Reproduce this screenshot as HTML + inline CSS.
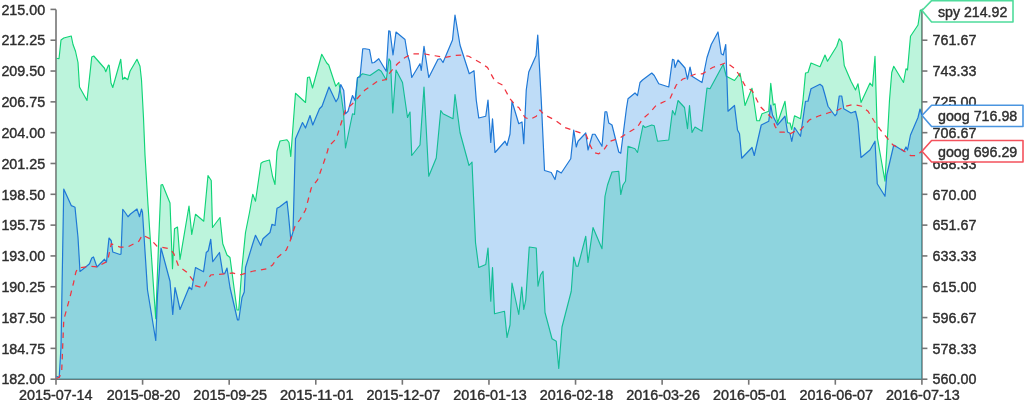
<!DOCTYPE html>
<html><head><meta charset="utf-8"><title>chart</title>
<style>html,body{margin:0;padding:0;background:#fff;}body{width:1024px;height:400px;overflow:hidden;position:relative;font-family:"Liberation Sans",Arial,sans-serif;}</style>
</head><body>
<svg width="1024" height="400" viewBox="0 0 1024 400" style="display:block;position:absolute;left:0;top:0">
<rect width="1024" height="400" fill="#fff"/>
<g stroke="#757575" stroke-width="1.6" fill="none">
<path d="M56.0,9.4 V379.2 H921.9 V9.4"/>
<path d="M50.5,9.40 H56.0"/>
<path d="M921.9,9.40 H927.4"/>
<path d="M50.5,40.22 H56.0"/>
<path d="M921.9,40.22 H927.4"/>
<path d="M50.5,71.03 H56.0"/>
<path d="M921.9,71.03 H927.4"/>
<path d="M50.5,101.85 H56.0"/>
<path d="M921.9,101.85 H927.4"/>
<path d="M50.5,132.67 H56.0"/>
<path d="M921.9,132.67 H927.4"/>
<path d="M50.5,163.48 H56.0"/>
<path d="M921.9,163.48 H927.4"/>
<path d="M50.5,194.30 H56.0"/>
<path d="M921.9,194.30 H927.4"/>
<path d="M50.5,225.12 H56.0"/>
<path d="M921.9,225.12 H927.4"/>
<path d="M50.5,255.93 H56.0"/>
<path d="M921.9,255.93 H927.4"/>
<path d="M50.5,286.75 H56.0"/>
<path d="M921.9,286.75 H927.4"/>
<path d="M50.5,317.57 H56.0"/>
<path d="M921.9,317.57 H927.4"/>
<path d="M50.5,348.38 H56.0"/>
<path d="M921.9,348.38 H927.4"/>
<path d="M50.5,379.20 H56.0"/>
<path d="M921.9,379.20 H927.4"/>
<path d="M56.00,379.2 V384.7"/>
<path d="M142.59,379.2 V384.7"/>
<path d="M229.18,379.2 V384.7"/>
<path d="M315.77,379.2 V384.7"/>
<path d="M402.36,379.2 V384.7"/>
<path d="M488.95,379.2 V384.7"/>
<path d="M575.54,379.2 V384.7"/>
<path d="M662.13,379.2 V384.7"/>
<path d="M748.72,379.2 V384.7"/>
<path d="M835.31,379.2 V384.7"/>
<path d="M921.90,379.2 V384.7"/>
</g>
<path d="M56.50,58.25 L59.00,58.75 L61.00,40.00 L63.75,38.00 L71.25,36.00 L73.00,44.50 L75.50,51.25 L78.00,62.50 L79.50,87.00 L87.00,100.50 L91.75,57.00 L93.75,56.00 L104.50,68.25 L105.75,71.75 L108.50,65.00 L109.25,65.50 L111.00,83.00 L112.75,87.50 L120.75,59.25 L122.75,79.50 L124.50,77.25 L127.75,79.75 L130.00,71.25 L137.00,59.25 L140.00,66.25 L141.50,80.00 L143.50,118.00 L145.00,155.00 L148.00,205.00 L154.00,294.00 L155.75,318.75 L158.50,245.00 L161.00,185.00 L162.50,184.50 L170.00,203.00 L172.50,268.75 L174.50,228.75 L177.50,227.00 L180.00,259.50 L189.00,206.00 L191.75,234.50 L195.50,214.25 L203.75,221.25 L208.00,175.50 L211.25,180.50 L212.50,227.50 L220.00,217.50 L222.75,243.75 L227.00,255.00 L230.00,257.50 L237.00,310.00 L238.75,310.00 L242.00,267.50 L245.50,232.50 L249.50,212.50 L252.75,194.25 L255.50,201.25 L261.00,163.25 L263.25,161.75 L269.50,160.00 L272.50,176.25 L275.00,184.50 L277.00,151.25 L280.00,141.00 L287.00,139.75 L289.00,142.50 L290.75,156.50 L295.50,93.25 L305.50,102.50 L307.50,77.50 L309.50,77.00 L312.50,88.00 L321.75,54.25 L326.75,63.00 L328.75,65.00 L335.75,86.25 L338.75,82.50 L341.25,96.00 L343.50,112.00 L345.50,148.00 L352.50,113.75 L354.50,114.50 L357.50,78.00 L362.50,73.75 L370.00,75.50 L378.75,69.50 L381.25,71.25 L386.25,80.00 L389.00,58.75 L390.50,61.25 L392.75,113.00 L396.00,70.00 L402.50,82.50 L405.00,100.00 L407.50,117.50 L410.00,112.00 L411.75,155.50 L420.00,145.00 L424.00,87.00 L428.75,176.25 L436.25,158.00 L440.75,110.50 L443.00,113.75 L453.00,118.75 L455.00,94.50 L460.00,132.50 L469.00,165.50 L472.00,162.00 L475.50,242.50 L478.75,267.50 L485.75,264.50 L488.00,248.00 L490.75,301.25 L492.50,267.50 L494.50,313.75 L504.50,311.25 L507.00,337.50 L510.00,325.00 L512.00,283.00 L518.75,314.50 L521.75,287.00 L523.75,309.50 L525.75,300.00 L529.25,247.00 L536.25,248.00 L538.00,286.25 L540.50,275.00 L543.00,271.25 L545.00,312.50 L552.00,338.75 L556.25,341.25 L558.75,368.50 L562.00,327.00 L571.25,291.25 L573.75,257.00 L576.25,266.25 L578.00,266.25 L585.75,236.25 L588.00,262.50 L593.00,227.50 L602.00,248.75 L605.00,196.25 L607.50,185.00 L612.00,172.00 L618.75,171.25 L620.75,194.50 L623.00,185.00 L625.50,181.25 L628.00,146.25 L635.00,148.75 L637.50,152.50 L643.00,125.50 L645.00,127.50 L651.75,125.00 L654.25,125.75 L657.50,141.25 L668.75,140.00 L672.50,110.50 L675.00,115.00 L678.00,100.50 L684.50,107.50 L687.50,128.75 L689.50,105.50 L692.00,132.50 L695.00,127.00 L702.00,131.25 L705.00,105.00 L707.00,88.00 L710.00,88.75 L723.25,64.25 L726.25,76.25 L734.50,80.50 L740.00,73.25 L742.00,83.75 L745.00,105.50 L752.00,88.25 L756.75,120.75 L759.50,120.75 L762.00,113.75 L768.75,111.25 L770.75,83.25 L773.25,105.00 L775.00,103.75 L777.50,123.00 L785.00,101.25 L787.50,123.00 L790.00,123.00 L791.75,129.50 L794.50,115.75 L800.50,118.75 L803.00,100.00 L805.50,73.00 L808.00,72.50 L811.00,63.00 L820.00,66.75 L825.00,55.00 L827.50,61.25 L836.75,46.25 L839.25,38.75 L841.75,42.00 L844.25,65.50 L851.00,81.25 L855.50,90.00 L858.00,83.75 L861.00,102.50 L870.00,83.00 L872.50,86.25 L875.00,56.25 L877.40,138.00 L885.00,181.25 L887.30,140.00 L889.50,100.00 L891.75,72.50 L893.75,66.25 L903.50,82.50 L906.00,68.75 L907.50,70.00 L910.50,36.25 L918.00,25.00 L920.30,10.00 L921.90,10.40 L921.90,379.2 L56.50,379.2 Z" fill="#10d882" fill-opacity="0.28"/>
<path d="M56.50,58.25 L59.00,58.75 L61.00,40.00 L63.75,38.00 L71.25,36.00 L73.00,44.50 L75.50,51.25 L78.00,62.50 L79.50,87.00 L87.00,100.50 L91.75,57.00 L93.75,56.00 L104.50,68.25 L105.75,71.75 L108.50,65.00 L109.25,65.50 L111.00,83.00 L112.75,87.50 L120.75,59.25 L122.75,79.50 L124.50,77.25 L127.75,79.75 L130.00,71.25 L137.00,59.25 L140.00,66.25 L141.50,80.00 L143.50,118.00 L145.00,155.00 L148.00,205.00 L154.00,294.00 L155.75,318.75 L158.50,245.00 L161.00,185.00 L162.50,184.50 L170.00,203.00 L172.50,268.75 L174.50,228.75 L177.50,227.00 L180.00,259.50 L189.00,206.00 L191.75,234.50 L195.50,214.25 L203.75,221.25 L208.00,175.50 L211.25,180.50 L212.50,227.50 L220.00,217.50 L222.75,243.75 L227.00,255.00 L230.00,257.50 L237.00,310.00 L238.75,310.00 L242.00,267.50 L245.50,232.50 L249.50,212.50 L252.75,194.25 L255.50,201.25 L261.00,163.25 L263.25,161.75 L269.50,160.00 L272.50,176.25 L275.00,184.50 L277.00,151.25 L280.00,141.00 L287.00,139.75 L289.00,142.50 L290.75,156.50 L295.50,93.25 L305.50,102.50 L307.50,77.50 L309.50,77.00 L312.50,88.00 L321.75,54.25 L326.75,63.00 L328.75,65.00 L335.75,86.25 L338.75,82.50 L341.25,96.00 L343.50,112.00 L345.50,148.00 L352.50,113.75 L354.50,114.50 L357.50,78.00 L362.50,73.75 L370.00,75.50 L378.75,69.50 L381.25,71.25 L386.25,80.00 L389.00,58.75 L390.50,61.25 L392.75,113.00 L396.00,70.00 L402.50,82.50 L405.00,100.00 L407.50,117.50 L410.00,112.00 L411.75,155.50 L420.00,145.00 L424.00,87.00 L428.75,176.25 L436.25,158.00 L440.75,110.50 L443.00,113.75 L453.00,118.75 L455.00,94.50 L460.00,132.50 L469.00,165.50 L472.00,162.00 L475.50,242.50 L478.75,267.50 L485.75,264.50 L488.00,248.00 L490.75,301.25 L492.50,267.50 L494.50,313.75 L504.50,311.25 L507.00,337.50 L510.00,325.00 L512.00,283.00 L518.75,314.50 L521.75,287.00 L523.75,309.50 L525.75,300.00 L529.25,247.00 L536.25,248.00 L538.00,286.25 L540.50,275.00 L543.00,271.25 L545.00,312.50 L552.00,338.75 L556.25,341.25 L558.75,368.50 L562.00,327.00 L571.25,291.25 L573.75,257.00 L576.25,266.25 L578.00,266.25 L585.75,236.25 L588.00,262.50 L593.00,227.50 L602.00,248.75 L605.00,196.25 L607.50,185.00 L612.00,172.00 L618.75,171.25 L620.75,194.50 L623.00,185.00 L625.50,181.25 L628.00,146.25 L635.00,148.75 L637.50,152.50 L643.00,125.50 L645.00,127.50 L651.75,125.00 L654.25,125.75 L657.50,141.25 L668.75,140.00 L672.50,110.50 L675.00,115.00 L678.00,100.50 L684.50,107.50 L687.50,128.75 L689.50,105.50 L692.00,132.50 L695.00,127.00 L702.00,131.25 L705.00,105.00 L707.00,88.00 L710.00,88.75 L723.25,64.25 L726.25,76.25 L734.50,80.50 L740.00,73.25 L742.00,83.75 L745.00,105.50 L752.00,88.25 L756.75,120.75 L759.50,120.75 L762.00,113.75 L768.75,111.25 L770.75,83.25 L773.25,105.00 L775.00,103.75 L777.50,123.00 L785.00,101.25 L787.50,123.00 L790.00,123.00 L791.75,129.50 L794.50,115.75 L800.50,118.75 L803.00,100.00 L805.50,73.00 L808.00,72.50 L811.00,63.00 L820.00,66.75 L825.00,55.00 L827.50,61.25 L836.75,46.25 L839.25,38.75 L841.75,42.00 L844.25,65.50 L851.00,81.25 L855.50,90.00 L858.00,83.75 L861.00,102.50 L870.00,83.00 L872.50,86.25 L875.00,56.25 L877.40,138.00 L885.00,181.25 L887.30,140.00 L889.50,100.00 L891.75,72.50 L893.75,66.25 L903.50,82.50 L906.00,68.75 L907.50,70.00 L910.50,36.25 L918.00,25.00 L920.30,10.00 L921.90,10.40" fill="none" stroke="#10d477" stroke-width="1.15" stroke-linejoin="round"/>
<path d="M56.50,376.20 L59.20,377.50 L61.00,347.00 L63.75,189.00 L71.25,205.60 L73.50,206.50 L75.00,207.30 L78.00,237.50 L80.00,271.50 L87.50,265.50 L89.50,263.75 L91.75,258.00 L93.50,257.00 L97.00,267.00 L104.50,259.25 L106.50,262.00 L109.00,238.00 L111.25,240.75 L112.75,252.00 L120.00,254.50 L121.00,254.00 L122.75,209.25 L125.50,213.00 L128.00,216.75 L130.50,214.00 L137.00,209.00 L139.50,216.75 L141.50,209.00 L142.50,212.50 L147.50,290.00 L155.75,340.50 L157.50,295.00 L161.00,248.00 L163.50,257.00 L170.00,281.25 L172.75,314.50 L175.00,287.50 L177.50,298.00 L180.00,309.50 L189.25,287.00 L191.75,289.50 L195.50,267.50 L203.50,271.80 L206.25,252.50 L208.25,250.75 L210.75,239.25 L212.75,261.75 L219.50,252.50 L222.75,273.00 L224.75,273.50 L227.00,268.00 L230.00,287.50 L237.50,320.00 L238.75,320.00 L242.00,297.50 L244.25,292.00 L245.50,267.50 L252.50,244.50 L255.50,235.25 L260.75,245.50 L263.00,238.75 L270.00,232.50 L272.00,224.25 L275.00,225.50 L277.00,208.25 L279.50,207.00 L287.00,201.25 L288.50,215.00 L290.75,239.25 L293.00,232.00 L295.50,138.75 L302.50,122.50 L305.50,128.00 L310.00,115.50 L312.75,125.00 L319.50,108.75 L322.00,106.25 L329.00,87.00 L336.00,101.75 L338.25,98.00 L340.75,84.50 L343.75,90.50 L345.50,113.75 L348.00,111.25 L352.50,95.50 L355.00,100.50 L357.50,77.50 L360.00,77.00 L362.75,48.75 L365.00,48.75 L369.50,49.50 L372.00,63.00 L374.25,62.50 L378.75,58.75 L386.25,71.25 L388.75,30.75 L390.00,31.25 L393.00,55.00 L396.00,32.00 L405.00,39.50 L407.50,55.00 L409.50,61.25 L411.75,77.50 L420.00,63.75 L421.25,70.50 L424.00,46.25 L428.75,77.50 L438.00,59.25 L440.50,58.75 L443.00,62.50 L452.50,40.00 L455.00,15.00 L460.00,45.00 L469.25,73.75 L474.00,70.75 L476.25,100.00 L478.75,118.00 L485.75,116.25 L488.00,100.00 L490.75,142.50 L492.50,118.75 L495.00,152.50 L505.00,141.25 L507.00,145.50 L510.00,134.00 L512.00,101.25 L518.75,123.75 L522.00,122.00 L523.75,143.75 L526.25,90.00 L528.75,72.00 L536.00,55.75 L537.75,35.00 L541.25,100.00 L544.50,170.50 L551.25,172.50 L555.00,179.50 L557.00,170.50 L561.25,173.00 L570.75,158.75 L573.75,130.00 L576.25,147.00 L578.00,141.25 L585.75,133.00 L588.00,150.00 L592.50,134.25 L595.00,134.25 L602.00,146.25 L605.00,111.75 L606.75,111.75 L608.75,123.00 L612.00,125.00 L618.75,152.00 L620.75,153.25 L626.50,108.00 L628.00,98.75 L635.00,93.00 L637.50,95.50 L640.00,82.50 L642.50,80.00 L651.75,73.00 L654.25,75.50 L658.75,83.75 L668.75,87.00 L672.50,59.25 L674.00,60.00 L675.00,67.50 L678.00,60.00 L685.00,68.00 L687.50,79.25 L690.00,67.00 L692.00,76.25 L702.00,82.50 L707.00,57.50 L711.25,44.50 L718.00,32.00 L721.25,53.75 L723.25,55.00 L725.75,44.50 L728.00,111.25 L734.50,105.50 L737.50,130.00 L739.50,133.75 L741.75,158.25 L752.00,147.50 L754.25,155.50 L761.25,125.00 L768.75,121.25 L770.75,105.00 L772.50,115.00 L777.50,125.00 L785.00,116.25 L787.50,132.00 L790.00,133.25 L791.75,141.50 L794.50,127.50 L800.50,136.25 L805.50,101.25 L808.00,101.25 L811.00,88.75 L820.00,84.25 L822.50,86.25 L825.00,95.00 L828.00,106.25 L835.00,115.75 L836.75,113.75 L839.25,96.00 L841.75,96.00 L843.75,108.75 L851.00,113.00 L855.50,111.25 L858.00,122.00 L861.00,157.50 L870.00,150.00 L875.00,141.25 L877.25,183.75 L885.00,196.25 L886.75,175.00 L893.75,145.00 L903.75,151.25 L906.00,147.00 L907.50,150.00 L910.50,135.00 L918.00,117.50 L920.00,109.00 L921.90,115.00 L921.90,379.2 L56.50,379.2 Z" fill="#1e88e5" fill-opacity="0.29"/>
<path d="M56.50,376.20 L59.20,377.50 L61.00,347.00 L63.75,189.00 L71.25,205.60 L73.50,206.50 L75.00,207.30 L78.00,237.50 L80.00,271.50 L87.50,265.50 L89.50,263.75 L91.75,258.00 L93.50,257.00 L97.00,267.00 L104.50,259.25 L106.50,262.00 L109.00,238.00 L111.25,240.75 L112.75,252.00 L120.00,254.50 L121.00,254.00 L122.75,209.25 L125.50,213.00 L128.00,216.75 L130.50,214.00 L137.00,209.00 L139.50,216.75 L141.50,209.00 L142.50,212.50 L147.50,290.00 L155.75,340.50 L157.50,295.00 L161.00,248.00 L163.50,257.00 L170.00,281.25 L172.75,314.50 L175.00,287.50 L177.50,298.00 L180.00,309.50 L189.25,287.00 L191.75,289.50 L195.50,267.50 L203.50,271.80 L206.25,252.50 L208.25,250.75 L210.75,239.25 L212.75,261.75 L219.50,252.50 L222.75,273.00 L224.75,273.50 L227.00,268.00 L230.00,287.50 L237.50,320.00 L238.75,320.00 L242.00,297.50 L244.25,292.00 L245.50,267.50 L252.50,244.50 L255.50,235.25 L260.75,245.50 L263.00,238.75 L270.00,232.50 L272.00,224.25 L275.00,225.50 L277.00,208.25 L279.50,207.00 L287.00,201.25 L288.50,215.00 L290.75,239.25 L293.00,232.00 L295.50,138.75 L302.50,122.50 L305.50,128.00 L310.00,115.50 L312.75,125.00 L319.50,108.75 L322.00,106.25 L329.00,87.00 L336.00,101.75 L338.25,98.00 L340.75,84.50 L343.75,90.50 L345.50,113.75 L348.00,111.25 L352.50,95.50 L355.00,100.50 L357.50,77.50 L360.00,77.00 L362.75,48.75 L365.00,48.75 L369.50,49.50 L372.00,63.00 L374.25,62.50 L378.75,58.75 L386.25,71.25 L388.75,30.75 L390.00,31.25 L393.00,55.00 L396.00,32.00 L405.00,39.50 L407.50,55.00 L409.50,61.25 L411.75,77.50 L420.00,63.75 L421.25,70.50 L424.00,46.25 L428.75,77.50 L438.00,59.25 L440.50,58.75 L443.00,62.50 L452.50,40.00 L455.00,15.00 L460.00,45.00 L469.25,73.75 L474.00,70.75 L476.25,100.00 L478.75,118.00 L485.75,116.25 L488.00,100.00 L490.75,142.50 L492.50,118.75 L495.00,152.50 L505.00,141.25 L507.00,145.50 L510.00,134.00 L512.00,101.25 L518.75,123.75 L522.00,122.00 L523.75,143.75 L526.25,90.00 L528.75,72.00 L536.00,55.75 L537.75,35.00 L541.25,100.00 L544.50,170.50 L551.25,172.50 L555.00,179.50 L557.00,170.50 L561.25,173.00 L570.75,158.75 L573.75,130.00 L576.25,147.00 L578.00,141.25 L585.75,133.00 L588.00,150.00 L592.50,134.25 L595.00,134.25 L602.00,146.25 L605.00,111.75 L606.75,111.75 L608.75,123.00 L612.00,125.00 L618.75,152.00 L620.75,153.25 L626.50,108.00 L628.00,98.75 L635.00,93.00 L637.50,95.50 L640.00,82.50 L642.50,80.00 L651.75,73.00 L654.25,75.50 L658.75,83.75 L668.75,87.00 L672.50,59.25 L674.00,60.00 L675.00,67.50 L678.00,60.00 L685.00,68.00 L687.50,79.25 L690.00,67.00 L692.00,76.25 L702.00,82.50 L707.00,57.50 L711.25,44.50 L718.00,32.00 L721.25,53.75 L723.25,55.00 L725.75,44.50 L728.00,111.25 L734.50,105.50 L737.50,130.00 L739.50,133.75 L741.75,158.25 L752.00,147.50 L754.25,155.50 L761.25,125.00 L768.75,121.25 L770.75,105.00 L772.50,115.00 L777.50,125.00 L785.00,116.25 L787.50,132.00 L790.00,133.25 L791.75,141.50 L794.50,127.50 L800.50,136.25 L805.50,101.25 L808.00,101.25 L811.00,88.75 L820.00,84.25 L822.50,86.25 L825.00,95.00 L828.00,106.25 L835.00,115.75 L836.75,113.75 L839.25,96.00 L841.75,96.00 L843.75,108.75 L851.00,113.00 L855.50,111.25 L858.00,122.00 L861.00,157.50 L870.00,150.00 L875.00,141.25 L877.25,183.75 L885.00,196.25 L886.75,175.00 L893.75,145.00 L903.75,151.25 L906.00,147.00 L907.50,150.00 L910.50,135.00 L918.00,117.50 L920.00,109.00 L921.90,115.00" fill="none" stroke="#1f78d6" stroke-width="1.2" stroke-linejoin="round"/>
<path d="M56.50,378.50 L59.50,377.00 L61.70,371.00 L63.75,320.00 L70.00,297.00 L73.50,283.00 L75.90,272.00 L78.00,268.00 L90.00,266.25 L97.00,267.00 L107.50,261.25 L111.25,243.75 L120.00,247.00 L127.50,247.00 L138.75,241.25 L142.50,235.00 L150.00,238.75 L157.00,246.25 L170.00,248.75 L173.75,253.50 L178.50,266.00 L186.50,272.00 L192.50,279.50 L195.00,285.50 L203.75,288.00 L207.50,280.00 L210.75,275.00 L225.00,273.75 L232.50,273.00 L240.00,275.00 L252.50,271.25 L267.50,268.75 L272.50,265.00 L277.50,257.50 L286.25,250.00 L290.00,241.25 L295.00,226.25 L300.00,219.50 L305.50,210.00 L311.25,188.00 L317.50,180.00 L323.75,162.50 L327.50,151.25 L328.75,146.25 L336.25,138.75 L343.00,117.50 L345.50,110.00 L352.50,103.75 L365.00,90.00 L377.50,81.25 L386.25,79.50 L390.00,72.50 L397.50,63.75 L405.00,57.50 L412.50,53.75 L425.00,54.00 L435.00,55.75 L445.00,57.50 L455.00,55.50 L462.50,55.00 L468.75,56.25 L480.00,62.50 L487.50,67.50 L495.00,81.25 L502.50,85.00 L510.00,98.75 L516.25,106.00 L518.75,107.50 L525.00,117.50 L530.00,119.50 L536.25,116.25 L540.00,110.00 L543.75,114.50 L555.00,120.00 L565.00,127.50 L573.75,130.50 L586.25,135.00 L590.00,145.00 L593.75,152.50 L598.75,153.75 L603.75,150.00 L609.50,141.50 L620.00,138.00 L627.50,133.00 L637.50,127.00 L642.50,119.00 L650.00,112.50 L656.00,105.50 L665.00,101.25 L670.00,98.75 L676.25,85.00 L682.50,79.25 L690.00,76.25 L696.25,73.75 L702.50,73.75 L712.50,67.50 L720.00,65.00 L726.25,62.50 L735.00,68.75 L740.00,76.25 L745.00,85.50 L752.50,91.25 L760.00,106.25 L767.50,113.75 L772.50,118.75 L775.00,126.25 L778.75,132.00 L783.75,132.00 L790.00,133.75 L795.00,131.25 L800.50,130.00 L809.25,120.00 L818.00,116.25 L828.00,113.00 L838.00,110.00 L845.50,106.25 L853.00,104.50 L861.75,106.25 L868.00,111.25 L874.25,121.25 L880.50,130.00 L886.75,137.50 L893.00,145.00 L901.75,149.50 L910.50,155.50 L916.75,155.50 L921.90,151.00" fill="none" stroke="#f0333f" stroke-width="1.25" stroke-dasharray="5.5 5.2"/>
<g font-family="Liberation Sans, Arial, sans-serif" font-size="14" fill="#2e2e2e" stroke="#2e2e2e" stroke-width="0.4">
<text x="45.2" y="14.60" text-anchor="end" textLength="43.8" lengthAdjust="spacingAndGlyphs">215.00</text>
<text x="45.2" y="45.42" text-anchor="end" textLength="43.8" lengthAdjust="spacingAndGlyphs">212.25</text>
<text x="45.2" y="76.23" text-anchor="end" textLength="43.8" lengthAdjust="spacingAndGlyphs">209.50</text>
<text x="45.2" y="107.05" text-anchor="end" textLength="43.8" lengthAdjust="spacingAndGlyphs">206.75</text>
<text x="45.2" y="137.87" text-anchor="end" textLength="43.8" lengthAdjust="spacingAndGlyphs">204.00</text>
<text x="45.2" y="168.68" text-anchor="end" textLength="43.8" lengthAdjust="spacingAndGlyphs">201.25</text>
<text x="45.2" y="199.50" text-anchor="end" textLength="43.8" lengthAdjust="spacingAndGlyphs">198.50</text>
<text x="45.2" y="230.32" text-anchor="end" textLength="43.8" lengthAdjust="spacingAndGlyphs">195.75</text>
<text x="45.2" y="261.13" text-anchor="end" textLength="43.8" lengthAdjust="spacingAndGlyphs">193.00</text>
<text x="45.2" y="291.95" text-anchor="end" textLength="43.8" lengthAdjust="spacingAndGlyphs">190.25</text>
<text x="45.2" y="322.77" text-anchor="end" textLength="43.8" lengthAdjust="spacingAndGlyphs">187.50</text>
<text x="45.2" y="353.58" text-anchor="end" textLength="43.8" lengthAdjust="spacingAndGlyphs">184.75</text>
<text x="45.2" y="384.40" text-anchor="end" textLength="43.8" lengthAdjust="spacingAndGlyphs">182.00</text>
<text x="932.6" y="14.60" textLength="43.8" lengthAdjust="spacingAndGlyphs">780.00</text>
<text x="932.6" y="45.42" textLength="43.8" lengthAdjust="spacingAndGlyphs">761.67</text>
<text x="932.6" y="76.23" textLength="43.8" lengthAdjust="spacingAndGlyphs">743.33</text>
<text x="932.6" y="107.05" textLength="43.8" lengthAdjust="spacingAndGlyphs">725.00</text>
<text x="932.6" y="137.87" textLength="43.8" lengthAdjust="spacingAndGlyphs">706.67</text>
<text x="932.6" y="168.68" textLength="43.8" lengthAdjust="spacingAndGlyphs">688.33</text>
<text x="932.6" y="199.50" textLength="43.8" lengthAdjust="spacingAndGlyphs">670.00</text>
<text x="932.6" y="230.32" textLength="43.8" lengthAdjust="spacingAndGlyphs">651.67</text>
<text x="932.6" y="261.13" textLength="43.8" lengthAdjust="spacingAndGlyphs">633.33</text>
<text x="932.6" y="291.95" textLength="43.8" lengthAdjust="spacingAndGlyphs">615.00</text>
<text x="932.6" y="322.77" textLength="43.8" lengthAdjust="spacingAndGlyphs">596.67</text>
<text x="932.6" y="353.58" textLength="43.8" lengthAdjust="spacingAndGlyphs">578.33</text>
<text x="932.6" y="384.40" textLength="43.8" lengthAdjust="spacingAndGlyphs">560.00</text>
<text x="55.80" y="400.4" text-anchor="middle" textLength="73.6" lengthAdjust="spacingAndGlyphs">2015-07-14</text>
<text x="143.59" y="400.4" text-anchor="middle" textLength="73.6" lengthAdjust="spacingAndGlyphs">2015-08-20</text>
<text x="230.18" y="400.4" text-anchor="middle" textLength="73.6" lengthAdjust="spacingAndGlyphs">2015-09-25</text>
<text x="316.77" y="400.4" text-anchor="middle" textLength="73.6" lengthAdjust="spacingAndGlyphs">2015-11-01</text>
<text x="403.36" y="400.4" text-anchor="middle" textLength="73.6" lengthAdjust="spacingAndGlyphs">2015-12-07</text>
<text x="489.95" y="400.4" text-anchor="middle" textLength="73.6" lengthAdjust="spacingAndGlyphs">2016-01-13</text>
<text x="576.54" y="400.4" text-anchor="middle" textLength="73.6" lengthAdjust="spacingAndGlyphs">2016-02-18</text>
<text x="663.13" y="400.4" text-anchor="middle" textLength="73.6" lengthAdjust="spacingAndGlyphs">2016-03-26</text>
<text x="749.72" y="400.4" text-anchor="middle" textLength="73.6" lengthAdjust="spacingAndGlyphs">2016-05-01</text>
<text x="836.31" y="400.4" text-anchor="middle" textLength="73.6" lengthAdjust="spacingAndGlyphs">2016-06-07</text>
<text x="922.90" y="400.4" text-anchor="middle" textLength="73.6" lengthAdjust="spacingAndGlyphs">2016-07-13</text>
</g>
<path d="M922.0,10.5 L931.6,0.6 H1013 V22.0 H931.6 Z" fill="#fff" stroke="#4fdc9c" stroke-width="1.6" stroke-linejoin="round"/>
<text x="938" y="16.60" font-family="Liberation Sans, Arial, sans-serif" font-size="14" fill="#2e2e2e" stroke="#2e2e2e" stroke-width="0.4" textLength="69.29999999999995" lengthAdjust="spacingAndGlyphs">spy 214.92</text>
<path d="M922.0,115.5 L931.6,105.2 H1023 V126.5 H931.6 Z" fill="#fff" stroke="#4a95e0" stroke-width="1.6" stroke-linejoin="round"/>
<text x="938" y="121.15" font-family="Liberation Sans, Arial, sans-serif" font-size="14" fill="#2e2e2e" stroke="#2e2e2e" stroke-width="0.4" textLength="79.29999999999995" lengthAdjust="spacingAndGlyphs">goog 716.98</text>
<path d="M922.0,151.3 L931.6,140.5 H1023 V162 H931.6 Z" fill="#fff" stroke="#f4525c" stroke-width="1.6" stroke-linejoin="round"/>
<text x="938" y="156.55" font-family="Liberation Sans, Arial, sans-serif" font-size="14" fill="#2e2e2e" stroke="#2e2e2e" stroke-width="0.4" textLength="79.29999999999995" lengthAdjust="spacingAndGlyphs">goog 696.29</text>
</svg>
</body></html>
